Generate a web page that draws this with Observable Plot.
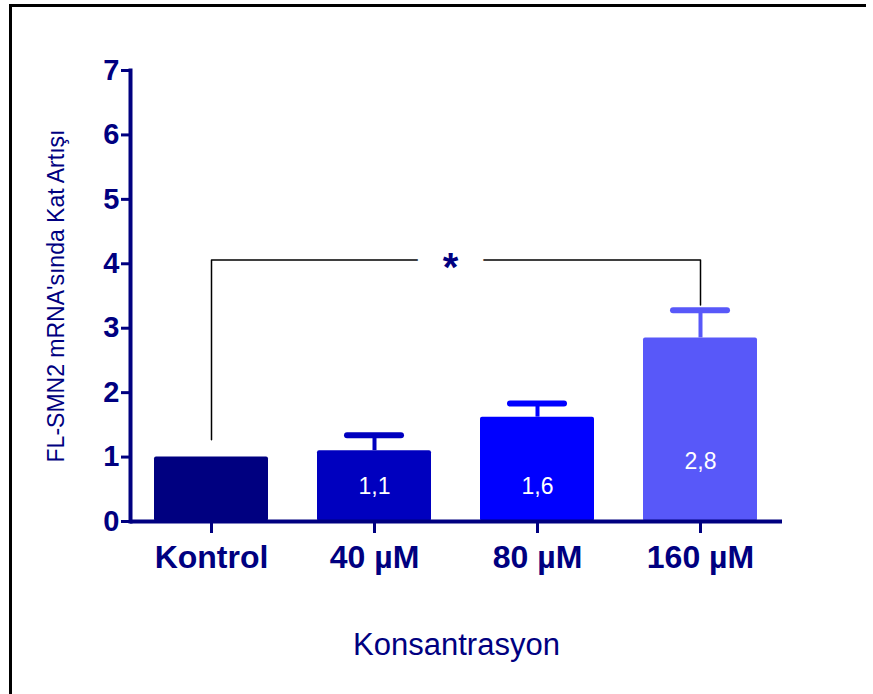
<!DOCTYPE html>
<html><head><meta charset="utf-8">
<script src="https://cdn.jsdelivr.net/npm/d3@7"></script>
<script src="https://cdn.jsdelivr.net/npm/@observablehq/plot@0.6"></script>
<style>
body{margin:0;background:#fff;}
#wrap{position:relative;width:873px;height:694px;overflow:hidden;}
#border{position:absolute;left:9px;top:4px;width:854px;height:720px;border-top:3px solid #000;border-left:3px solid #000;pointer-events:none;}
</style></head><body>
<div id="wrap"><div id="chart"></div><div id="border"></div></div>
<script>
const categories = ["Kontrol", "40 µM", "80 µM", "160 µM"];
const means = [1.0, 1.1, 1.62, 2.85];
const errors = [0, 0.24, 0.21, 0.43];
const barLabels = ["", "1,1", "1,6", "2,8"];
const labelAt = [null, 0.54, 0.54, 0.93];
const colors = ["#000080", "#0000BF", "#0000FF", "#5858F9"];
const yTicks = [0, 1, 2, 3, 4, 5, 6, 7];
const yTitle = "FL-SMN2 mRNA'sında Kat Artışı";
const xTitle = "Konsantrasyon";
const bracketFrom = "Kontrol", bracketTo = "160 µM";
const bracketY = 4.06, bracketLeftFoot = 1.27, bracketRightFoot = 3.36;
const sigText = "*";

const navy = "#000080";
const data = categories.map((c, i) => ({cat: c, mean: means[i], err: errors[i], label: barLabels[i], ly: labelAt[i], color: colors[i]}));
const withErr = data.filter(d => d.err > 0);
const bracketPts = [
  {x: bracketFrom, y: bracketLeftFoot},
  {x: bracketFrom, y: bracketY},
  {x: bracketTo, y: bracketY},
  {x: bracketTo, y: bracketRightFoot}
];

const chart = Plot.plot({
  width: 873, height: 694,
  marginLeft: 130, marginRight: 91, marginTop: 70, marginBottom: 173,
  style: {fontFamily: "'Liberation Sans', Arial, sans-serif", background: "white", color: navy, overflow: "visible"},
  x: {type: "band", domain: categories, paddingInner: 0.3, paddingOuter: 0.15},
  y: {domain: [0, 7]},
  color: {type: "identity"},
  marks: [
    Plot.barY(data, {x: "cat", y: "mean", fill: "color", rx: 2}),
    Plot.ruleX(withErr, {x: "cat", y1: "mean", y2: d => d.mean + d.err, stroke: "color", strokeWidth: 4}),
    Plot.tickY(withErr, {x: "cat", y: d => d.mean + d.err, stroke: "color", strokeWidth: 6, strokeLinecap: "round", insetLeft: 30, insetRight: 30}),
    Plot.text(data.filter(d => d.label), {x: "cat", y: "ly", text: "label", fill: "white", fontSize: 23}),
    Plot.ruleY([0], {stroke: navy, strokeWidth: 4}),
    Plot.frame({anchor: "left", stroke: navy, strokeWidth: 4}),
    Plot.axisY({ticks: yTicks, tickFormat: d => String(d), tickSize: 9, tickPadding: 2, fontSize: 29, fontWeight: "bold", strokeWidth: 3, label: null}),
    Plot.axisX({tickSize: 12, tickPadding: 12, fontSize: 32, fontWeight: "bold", strokeWidth: 3, label: null}),
    Plot.text([yTitle], {frameAnchor: "left", rotate: -90, dx: -74, fontSize: 23, fill: navy, textAnchor: "middle"}),
    Plot.text([xTitle], {frameAnchor: "bottom", dy: 133, fontSize: 31, fill: navy, textAnchor: "middle"}),
    Plot.line(bracketPts, {x: "x", y: "y", stroke: "black", strokeWidth: 1.5}),
    Plot.text([sigText], {x: () => categories[1], y: () => bracketY, text: d => d, dx: 76, dy: 8, fontSize: 40, fontWeight: "bold", fill: navy, stroke: "white", strokeWidth: 50})
  ]
});
document.getElementById("chart").appendChild(chart);
</script>
</body></html>
